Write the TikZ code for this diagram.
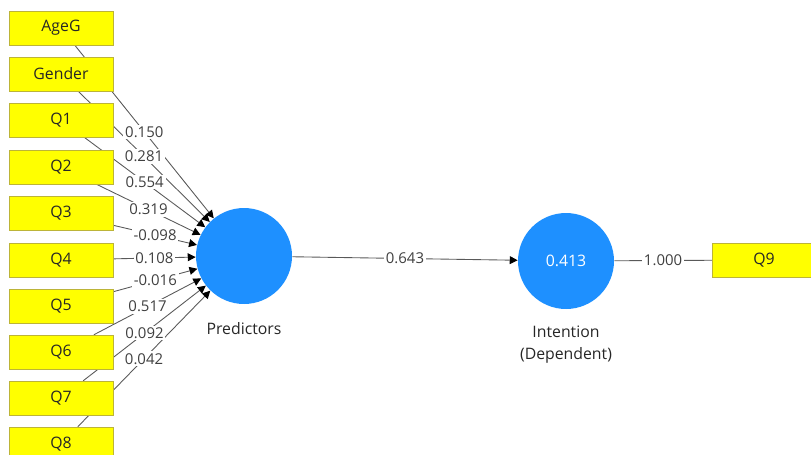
\documentclass[tikz,border=0pt]{standalone}
\usepackage{fontspec}
\setmainfont{Open Sans}
\usetikzlibrary{arrows.meta}
\definecolor{plsblue}{RGB}{30,144,255}
\definecolor{plsyellow}{RGB}{255,255,0}
\pgfdeclarelayer{back}
\pgfsetlayers{back,main}
\newcommand\predweights{ageg/0.150,gender/0.281,q1/0.554,q2/0.319,q3/-0.098,q4/0.108,q5/-0.016,q6/0.517,q7/0.092,q8/0.042}

\begin{document}
\begin{tikzpicture}[x=0.02cm, y=-0.02cm,
    every node/.style={font=\fontsize{9}{12.5}\selectfont, text=black!85},
    item/.style={rectangle, fill=plsyellow, draw=yellow!70!black, line width=0.3pt, minimum width=2.08cm, minimum height=0.68cm, inner sep=0pt},
    latent/.style={circle, fill=plsblue, minimum size=1.92cm, inner sep=0pt},
    coef/.style={fill=white, inner sep=1pt, text=black!75, font=\fontsize{8.5}{10}\selectfont},
    link/.style={draw=black!65, line width=0.5pt},
    tip/.style={-{Triangle[length=4.5pt, width=4.5pt, color=black]}}]
    \useasboundingbox (0,0) rectangle (811,454);
    \node[item] (ageg) at (61,28) {AgeG};
    \node[item] (gender) at (61,74) {Gender};
    \node[item] (q1) at (61,120) {Q1};
    \node[item] (q2) at (61,167) {Q2};
    \node[item] (q3) at (61,213) {Q3};
    \node[item] (q4) at (61,260) {Q4};
    \node[item] (q5) at (61,306) {Q5};
    \node[item] (q6) at (61,352) {Q6};
    \node[item] (q7) at (61,398) {Q7};
    \node[item] (q8) at (61,444) {Q8};
    \node[item] (q9) at (764,260) {Q9};
    \node[latent] (pred) at (244,256) {};
    \node[latent, text=white] (intent) at (566,261) {0.413};
    \node (predname) at (244,329) {Predictors};
    \node[align=center] (intentname) at (566,345) {Intention\\(Dependent)};
    \begin{pgfonlayer}{back}
    \foreach \from/\w in \predweights
    \draw[link, tip] (\from) -- (pred);
    \end{pgfonlayer}
    \foreach \from/\w in \predweights
    \path (\from) -- (pred) node[coef, midway] {\w};
    \draw[link, tip] (pred) -- node[coef] {0.643} (intent);
    \draw[link] (intent) -- node[coef] {1.000} (q9);
  \end{tikzpicture}
\end{document}
